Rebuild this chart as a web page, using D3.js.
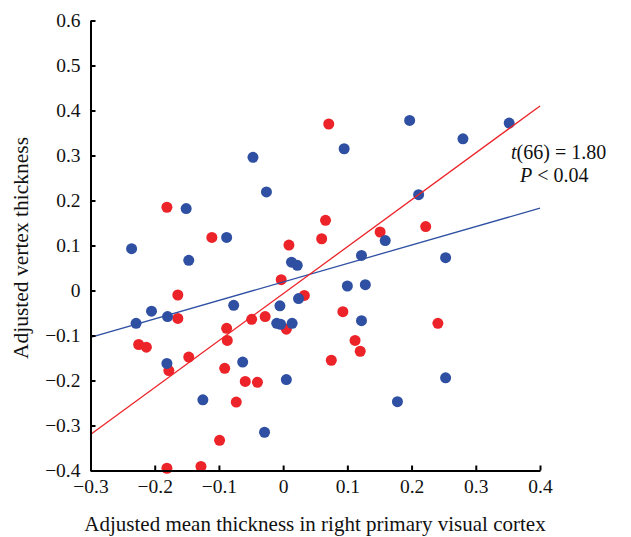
<!DOCTYPE html>
<html>
<head>
<meta charset="utf-8">
<script src="https://cdn.jsdelivr.net/npm/d3@7"></script>
<style>
  body { margin: 0; background: #fff; }
  svg { font-family: "Liberation Serif", "DejaVu Serif", serif; }
  .axis path, .axis line { stroke: #000; stroke-width: 2; }
  .axis text { font-size: 19.5px; fill: #111; font-family: "Liberation Serif", serif; }
</style>
</head>
<body>
<svg width="631" height="537"></svg>
<script>
// data
const blueX = [-0.236, -0.229, -0.205, -0.180, -0.181, -0.151, -0.147, -0.088, -0.125, -0.077,
  -0.063, -0.047, -0.026, -0.029, -0.005, -0.010, -0.004, 0.014, 0.005, 0.013,
  0.022, 0.024, 0.095, 0.100, 0.128, 0.122, 0.122, 0.159, 0.178, 0.197,
  0.211, 0.253, 0.253, 0.280, 0.352];
const blueY = [0.093, -0.073, -0.046, -0.058, -0.162, 0.182, 0.067, 0.118, -0.243, -0.033,
  -0.159, 0.296, 0.219, -0.315, -0.034, -0.073, -0.075, -0.073, -0.198, 0.063,
  0.056, -0.018, 0.315, 0.010, 0.013, 0.078, -0.067, 0.111, -0.247, 0.378,
  0.213, 0.073, -0.194, 0.337, 0.372];

const redX = [-0.181, -0.111, 0.009, 0.060, 0.066, 0.071, -0.003, 0.033, -0.164, -0.164,
  -0.049, -0.028, -0.088, -0.087, 0.005, -0.225, -0.213, -0.147, -0.178, -0.091,
  -0.059, -0.040, -0.073, -0.099, -0.181, -0.128, 0.151, 0.222, 0.093, 0.241,
  0.112, 0.120, 0.075];
const redY = [0.185, 0.118, 0.101, 0.115, 0.156, 0.370, 0.024, -0.011, -0.010, -0.062,
  -0.064, -0.058, -0.084, -0.111, -0.086, -0.120, -0.126, -0.148, -0.178, -0.173,
  -0.202, -0.204, -0.248, -0.333, -0.395, -0.391, 0.130, 0.142, -0.047, -0.073,
  -0.111, -0.135, -0.155];

// fitted lines (ends at x = -0.3 and x = 0.4)
const redFit = [[-0.3, -0.32], [0.4, 0.41]];
const blueFit = [[-0.3, -0.104], [0.4, 0.183]];

const xTicks = [-0.3, -0.2, -0.1, 0, 0.1, 0.2, 0.3, 0.4];
const yTicks = [-0.4, -0.3, -0.2, -0.1, 0, 0.1, 0.2, 0.3, 0.4, 0.5, 0.6];

const blue = "#2e4fa2";
const red = "#ec2328";

const svg = d3.select("svg");

const x = d3.scaleLinear().domain([-0.3, 0.4]).range([90.5, 540]);
const y = d3.scaleLinear().domain([-0.4, 0.6]).range([470.5, 20.5]);

const fmt = v => v === 0 ? "0" : d3.format(".1f")(v);

// points, red under blue
const pts = svg.append("g");
pts.selectAll("circle.r")
  .data(d3.zip(redX, redY))
  .join("circle")
  .attr("class", "r")
  .attr("cx", d => x(d[0]))
  .attr("cy", d => y(d[1]))
  .attr("r", 5.5)
  .attr("fill", red);

pts.selectAll("circle.b")
  .data(d3.zip(blueX, blueY))
  .join("circle")
  .attr("class", "b")
  .attr("cx", d => x(d[0]))
  .attr("cy", d => y(d[1]))
  .attr("r", 5.5)
  .attr("fill", blue);

const line = d3.line().x(d => x(d[0])).y(d => y(d[1]));

svg.append("path")
  .datum(blueFit)
  .attr("d", line)
  .attr("fill", "none")
  .attr("stroke", blue)
  .attr("stroke-width", 1.3);

svg.append("path")
  .datum(redFit)
  .attr("d", line)
  .attr("fill", "none")
  .attr("stroke", red)
  .attr("stroke-width", 1.3);

// axes, ticks pointing inward
svg.append("g")
  .attr("class", "axis")
  .attr("transform", `translate(0,${y(-0.4)})`)
  .call(d3.axisBottom(x).tickValues(xTicks).tickFormat(fmt).tickSize(-5).tickSizeOuter(0).tickPadding(9));

svg.append("g")
  .attr("class", "axis")
  .attr("transform", `translate(${x(-0.3)},0)`)
  .call(d3.axisLeft(y).tickValues(yTicks).tickFormat(fmt).tickSize(-5).tickSizeOuter(0).tickPadding(10));

// titles
svg.append("text")
  .attr("x", 315)
  .attr("y", 531)
  .attr("text-anchor", "middle")
  .attr("font-size", 21)
  .attr("fill", "#111")
  .text("Adjusted mean thickness in right primary visual cortex");

svg.append("text")
  .attr("transform", "translate(28,248) rotate(-90)")
  .attr("text-anchor", "middle")
  .attr("font-size", 21.5)
  .attr("fill", "#111")
  .text("Adjusted vertex thickness");

// stats note, two lines
const t1 = svg.append("text")
  .attr("x", 511).attr("y", 159)
  .attr("font-size", 20)
  .attr("fill", "#111");
t1.append("tspan").attr("font-style", "italic").text("t");
t1.append("tspan").text("(66) = 1.80");

const t2 = svg.append("text")
  .attr("x", 520).attr("y", 182)
  .attr("font-size", 20)
  .attr("fill", "#111");
t2.append("tspan").attr("font-style", "italic").text("P");
t2.append("tspan").text(" < 0.04");
</script>
</body>
</html>
